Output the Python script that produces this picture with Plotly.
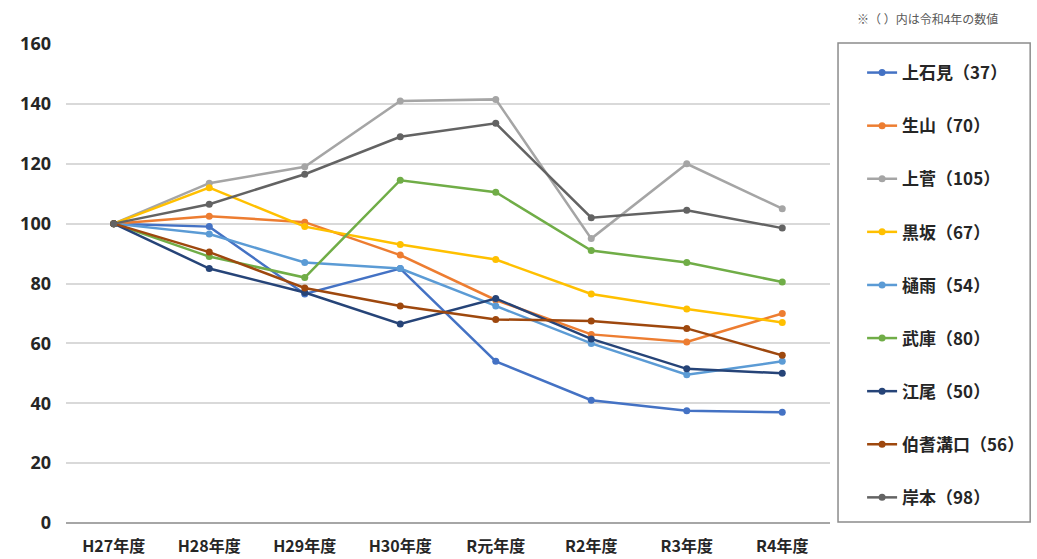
import plotly.graph_objects as go

# 年度区分
years = ["H27年度", "H28年度", "H29年度", "H30年度", "R元年度", "R2年度", "R3年度", "R4年度"]

# 各地区の指数（H27年度＝100）
kamiishimi = [100, 99, 76.5, 85, 54, 41, 37.5, 37]
shoyama = [100, 102.5, 100.5, 89.5, 74.5, 63, 60.5, 70]
kamisuge = [100, 113.5, 119, 141, 141.5, 95, 120, 105]
kurosaka = [100, 112, 99, 93, 88, 76.5, 71.5, 67]
nejiu = [100, 96.5, 87, 85, 72.5, 60, 49.5, 54]
muko = [100, 89, 82, 114.5, 110.5, 91, 87, 80.5]
eo = [100, 85, 77, 66.5, 75, 61.5, 51.5, 50]
houki_mizoguchi = [100, 90.5, 78.5, 72.5, 68, 67.5, 65, 56]
kishimoto = [100, 106.5, 116.5, 129, 133.5, 102, 104.5, 98.5]

series_names = ["上石見（37）", "生山（70）", "上菅（105）", "黒坂（67）", "樋雨（54）",
                "武庫（80）", "江尾（50）", "伯耆溝口（56）", "岸本（98）"]
series_values = [kamiishimi, shoyama, kamisuge, kurosaka, nejiu,
                 muko, eo, houki_mizoguchi, kishimoto]
series_colors = ["#4472C4", "#ED7D31", "#A5A5A5", "#FFC000", "#5B9BD5",
                 "#70AD47", "#264478", "#9E480E", "#636363"]

y_ticks = [0, 20, 40, 60, 80, 100, 120, 140, 160]

FONT = "Noto Sans CJK JP"

fig = go.Figure()
for i, (name, vals, col) in enumerate(zip(series_names, series_values, series_colors)):
    fig.add_trace(go.Scatter(
        x=years, y=vals, name=name, mode="lines+markers",
        line=dict(color=col, width=2.5),
        marker=dict(color=col, size=7),
        legendgroup=f"g{i}",
    ))

# 基準線（100）
fig.add_hline(y=100, line=dict(color="#1a1a1a", width=1.5), layer="below")

# 凡例の枠
fig.add_shape(type="rect", xref="paper", yref="paper",
              x0=1.0105, x1=1.262, y0=0.002, y1=1.002,
              line=dict(color="#8c8c8c", width=1.5), fillcolor="rgba(0,0,0,0)")

fig.add_annotation(text="※（ ）内は令和4年の数値", xref="paper", yref="paper",
                   x=1.222, y=1.054, xanchor="right", yanchor="middle",
                   showarrow=False, font=dict(family=FONT, size=12, color="#595959"))

fig.update_layout(
    width=1037, height=559,
    margin=dict(l=66, r=207, t=44, b=36, autoexpand=False),
    paper_bgcolor="white", plot_bgcolor="white",
    font=dict(family=FONT, color="#262626"),
    showlegend=True,
    legend=dict(
        x=1.042, y=0.977, xanchor="left", yanchor="top",
        font=dict(family=FONT, size=17, color="#262626", weight="bold"),
        tracegroupgap=28, bgcolor="rgba(0,0,0,0)", borderwidth=0,
        itemwidth=30, maxheight=540,
    ),
    xaxis=dict(
        type="category", showgrid=False, zeroline=False,
        showline=False, ticks="", automargin=False,
        tickfont=dict(family=FONT, size=16, color="#262626", weight="bold"),
        ticklabelstandoff=12,
        range=[-0.5, 7.5],
    ),
    yaxis=dict(
        range=[0, 160], tickvals=y_ticks, showgrid=True,
        gridcolor="#d9d9d9", gridwidth=1.5,
        zeroline=True, zerolinecolor="#a6a6a6", zerolinewidth=1.5,
        showline=False, ticks="", automargin=False,
        tickfont=dict(family="Open Sans", size=18, color="#262626", weight="bold"),
        ticklabelstandoff=14,
    ),
)

fig.write_html("out.html")
